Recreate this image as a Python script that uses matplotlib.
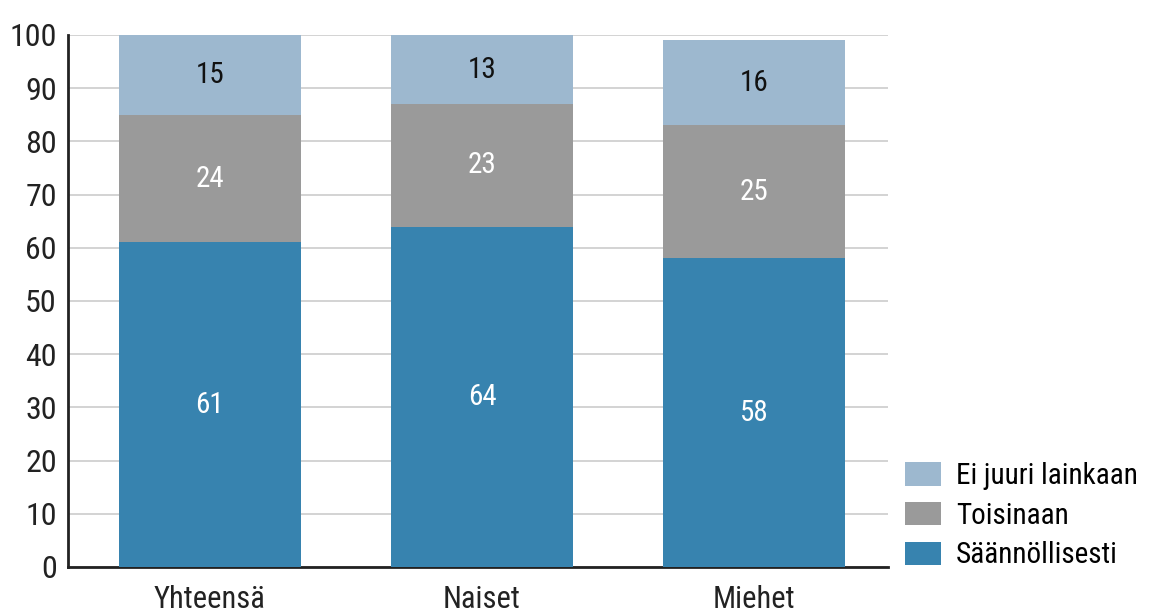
import matplotlib
matplotlib.use("Agg")
import matplotlib.pyplot as plt
from matplotlib import font_manager as fm
from matplotlib.patches import Patch

names = {f.name for f in fm.fontManager.ttflist}
fam = [n for n in ["Liberation Sans Narrow", "Roboto Condensed", "Liberation Sans", "DejaVu Sans"] if n in names]
plt.rcParams['font.family'] = fam

categories = ["Yhteensä", "Naiset", "Miehet"]
saannollisesti = [61, 64, 58]
toisinaan = [24, 23, 25]
ei_juuri = [15, 13, 16]
series_names = ["Säännöllisesti", "Toisinaan", "Ei juuri lainkaan"]
yticks = [0, 10, 20, 30, 40, 50, 60, 70, 80, 90, 100]

colors = ["#3783AF", "#9A9A9A", "#9DB8CF"]
label_colors = ["white", "white", "#111111"]

fig = plt.figure(figsize=(11.51, 6.16), dpi=100)
ax = fig.add_axes([68/1151, 1-567/616, (888-68)/1151, (567-35)/616])

x = list(range(len(categories)))
width = 0.67
bottoms = [0]*len(categories)
handles = []
for vals, col, lc, name in zip([saannollisesti, toisinaan, ei_juuri], colors, label_colors, series_names):
    ax.bar(x, vals, width, bottom=bottoms, color=col, zorder=3, label=name)
    for xi, v, b in zip(x, vals, bottoms):
        ax.text(xi, b + v/2, str(v), ha="center", va="center", color=lc, fontsize=21, zorder=4)
    bottoms = [b+v for b, v in zip(bottoms, vals)]
    handles.append(Patch(facecolor=col, label=name))

ax.set_xlim(-0.522, 2.493)
ax.set_ylim(0, 100)
ax.set_yticks(yticks)
ax.set_yticklabels([str(t) for t in yticks], fontsize=23, color="#222222")
ax.set_xticks(x)
ax.set_xticklabels(categories, fontsize=22, color="#222222")
ax.tick_params(axis="both", length=0)
ax.tick_params(axis="y", pad=8)
ax.tick_params(axis="x", pad=13)
ax.grid(axis="y", color="#CCCCCC", linewidth=1.2, zorder=0)
for s in ["top", "right"]:
    ax.spines[s].set_visible(False)
ax.spines["left"].set_linewidth(2)
ax.spines["bottom"].set_linewidth(2)
ax.spines["left"].set_color("#222222")
ax.spines["bottom"].set_color("#222222")

leg = fig.legend(handles=handles[::-1], loc="upper left", bbox_to_anchor=(905/1151, 1-462/616),
                 frameon=False, fontsize=21, handlelength=1.25, handleheight=0.85,
                 handletextpad=0.5, labelspacing=0.4, borderpad=0, borderaxespad=0)

fig.savefig("out.png", dpi=100)
